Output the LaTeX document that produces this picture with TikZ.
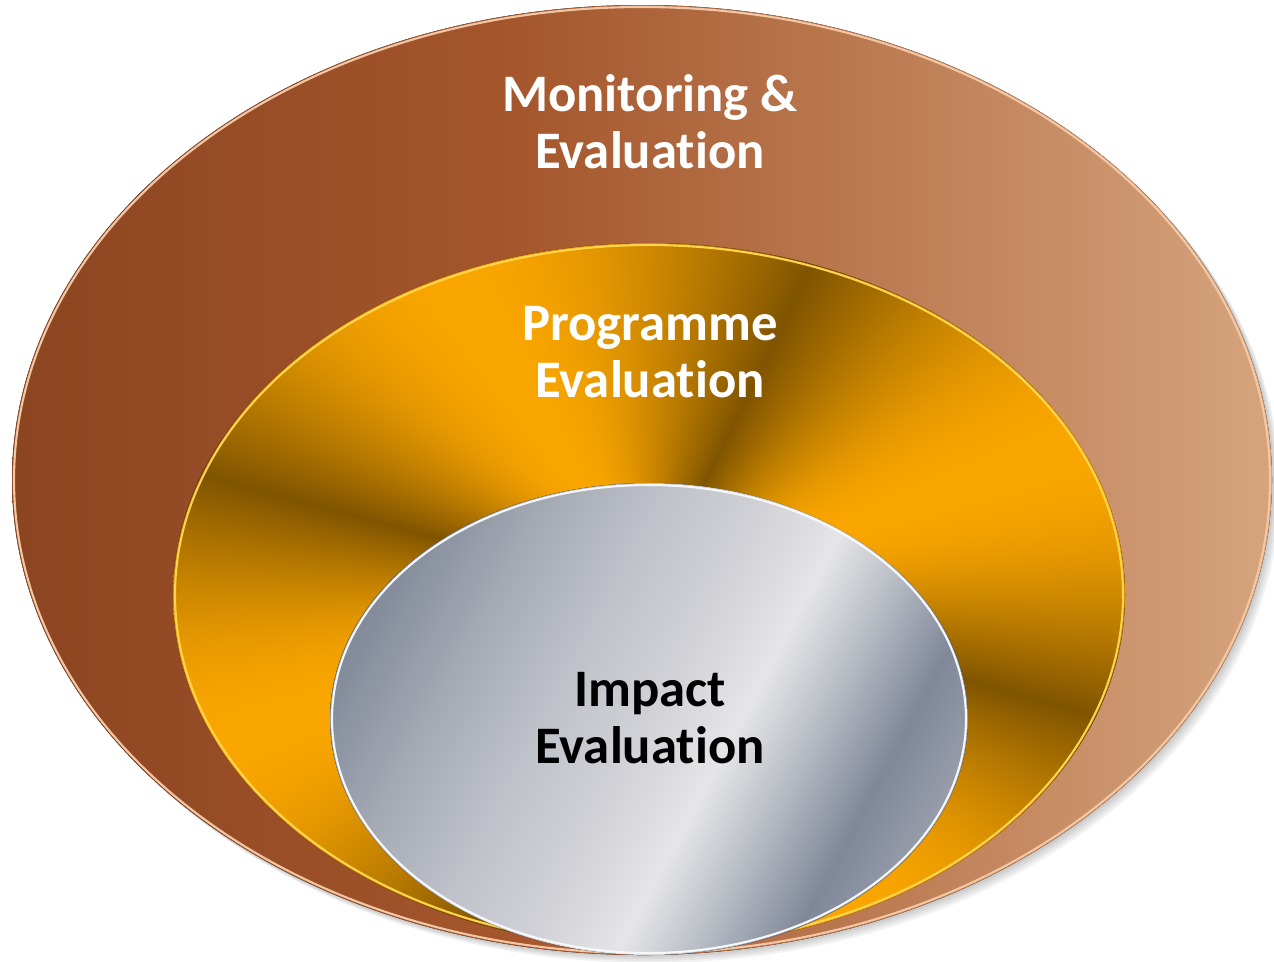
\documentclass[tikz,border=0pt]{standalone}
\usepackage{fontspec}
\setmainfont{Carlito}[Ligatures={NoCommon,NoContextual}]
\usetikzlibrary{positioning}

\definecolor{copperdark}{HTML}{8C4521}
\definecolor{coppermid}{HTML}{A5562C}
\definecolor{copperlight}{HTML}{D5A47D}
\definecolor{copperrim}{HTML}{F3C7A4}
\definecolor{goldrim}{HTML}{FFD34D}
\definecolor{silverrim}{HTML}{F6F7F9}

\pgfdeclarehorizontalshading{copper}{100bp}{%
  color(0bp)=(copperdark); color(25bp)=(copperdark); color(45bp)=(coppermid);
  color(75bp)=(copperlight); color(100bp)=(copperlight)}

% brushed gold: bands running round a centre point
\pgfdeclarefunctionalshading{gold}{\pgfpoint{-50bp}{-50bp}}{\pgfpoint{50bp}{50bp}}{}{%
  0.0013 add exch 0.0011 add atan 4 mul 10 sub sin 1 add 2 div sqrt
  dup 0.48 mul 0.50 add exch dup 0.32 mul 0.33 add exch pop 0}

% silver: slanted streaks
\pgfdeclarehorizontalshading{silver}{100bp}{%
  rgb(0bp)=(0.49,0.52,0.59); rgb(25bp)=(0.52,0.55,0.61);
  rgb(33bp)=(0.64,0.66,0.70); rgb(42bp)=(0.75,0.76,0.79);
  rgb(51bp)=(0.83,0.83,0.85); rgb(57bp)=(0.90,0.90,0.91);
  rgb(63bp)=(0.72,0.74,0.77); rgb(70bp)=(0.50,0.53,0.60);
  rgb(79bp)=(0.64,0.66,0.70); rgb(100bp)=(0.72,0.73,0.77)}

\begin{document}
\begin{tikzpicture}[
    x=0.02cm, y=-0.02cm,
    lbl/.style={align=center, inner sep=0pt,
                font=\bfseries\fontsize{30}{32.3}\selectfont},
  ]
  \useasboundingbox[fill=white] (0,0) rectangle (1274,961);

  % soft shadow under the outer disc
  \foreach \d in {2,4,6,8}
    \fill[black, opacity=0.05] (642+\d,480+\d) ellipse [x radius=630, y radius=475];

  % three discs, largest first
  \fill[shading=copper] (642,480) ellipse [x radius=630, y radius=475];
  \draw[copperrim, line width=1.2pt] (642,480) ellipse [x radius=628, y radius=473];

  \fill[shading=gold] (649,595) ellipse [x radius=476, y radius=352];
  \draw[goldrim, line width=1.2pt] (649,595) ellipse [x radius=474, y radius=350];

  \fill[shading=silver, shading angle=-28] (649,719) ellipse [x radius=319, y radius=236];
  \draw[silverrim, line width=1.2pt] (649,719) ellipse [x radius=317, y radius=234];

  \node[lbl, text=white] (me) at (650,122) {Monitoring \&\\Evaluation};
  \node[lbl, text=white] (pe) at (650,352) {Programme\\Evaluation};
  \node[lbl] (ie) at (650,718) {Impact\\Evaluation};
\end{tikzpicture}
\end{document}
